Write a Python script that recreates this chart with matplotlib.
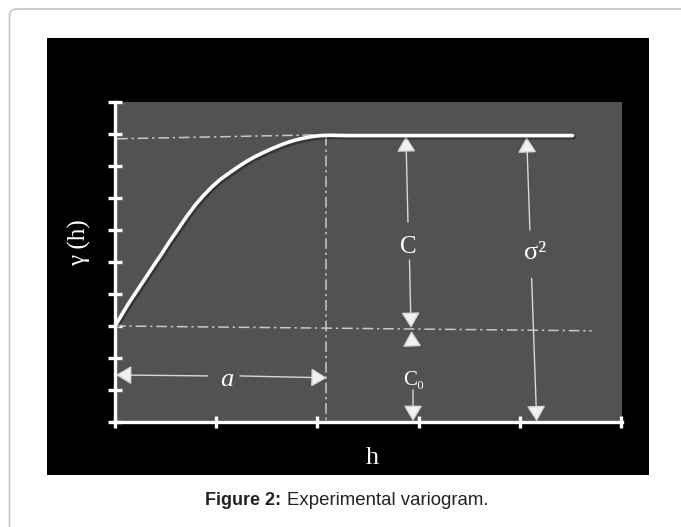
import matplotlib
matplotlib.use("Agg")
import matplotlib.pyplot as plt
from matplotlib.patches import Rectangle, FancyBboxPatch
import matplotlib.patheffects as pe

# ---- data ----
h_curve = [0.0, 0.135, 0.299, 0.38, 0.464, 0.543, 0.629, 0.71, 0.793, 0.875, 0.958,
           1.04, 1.124, 1.21, 1.288, 1.37, 1.453, 1.535, 1.618, 1.70, 1.782, 1.865,
           1.947, 2.03, 2.112, 2.3, 3.0, 4.0, 4.52]
g_curve = [3.0, 3.71, 4.49, 4.88, 5.27, 5.66, 6.05, 6.43, 6.78, 7.08, 7.35,
           7.58, 7.77, 7.96, 8.12, 8.27, 8.40, 8.52, 8.63, 8.73, 8.81, 8.87,
           8.92, 8.95, 8.96, 8.95, 8.95, 8.95, 8.95]
nugget = 3.0
sill = 9.0
range_a = 2.087
x_ticks = [0, 1, 2, 3, 4, 5]
y_ticks = [0, 1, 2, 3, 4, 5, 6, 7, 8, 9, 10]

W, H = 681, 527
fig = plt.figure(figsize=(W / 100, H / 100), dpi=100)
fig.patch.set_facecolor("white")

# outer light frame (top + left visible, rounded corner)
frame = FancyBboxPatch((9.5 / W, -40 / H), 720 / W, (H - 9 + 40) / H,
                       boxstyle="round,pad=0,rounding_size=0.012",
                       transform=fig.transFigure, facecolor="none",
                       edgecolor="#c4c4c4", linewidth=1.2, zorder=-2)
fig.patches.append(frame)

# black panel
fig.patches.append(Rectangle((47 / W, (H - 475) / H), 602 / W, 437 / H,
                             transform=fig.transFigure, facecolor="black",
                             edgecolor="none", zorder=-1))

ax = fig.add_axes([115 / W, (H - 422) / H, 507 / W, 320 / H])
ax.set_facecolor("#525252")
ax.set_xlim(0, 5.01)
ax.set_ylim(0, 10)
for s in ["top", "right"]:
    ax.spines[s].set_visible(False)
for s in ["left", "bottom"]:
    ax.spines[s].set_color("white")
    ax.spines[s].set_linewidth(2.4)
    ax.spines[s].set_zorder(5)
ax.set_xticks(x_ticks)
ax.set_yticks(y_ticks)
ax.tick_params(axis="both", direction="inout", colors="white", width=2.4,
               labelleft=False, labelbottom=False)
ax.tick_params(axis="y", length=10)
ax.tick_params(axis="x", length=8)

dc = "#c8c8c8"
# reference dash-dot lines
ax.plot([0.02, range_a], [sill - 0.15, sill - 0.02], color=dc, lw=1.1,
        ls=(0, (7, 2.5, 1.5, 2.5)), zorder=2)
ax.plot([0.0, 4.71], [nugget, nugget - 0.15], color=dc, lw=1.1,
        ls=(0, (7, 2.5, 1.5, 2.5)), zorder=2)
ax.plot([range_a, range_a], [sill - 0.02, 0], color=dc, lw=1.1,
        ls=(0, (7, 2.5, 1.5, 2.5)), zorder=2)

# variogram curve
ax.plot(h_curve, g_curve, color="white", lw=2.6, solid_capstyle="round",
        solid_joinstyle="round", zorder=4,
        path_effects=[pe.SimpleLineShadow(offset=(1.2, -1.5), shadow_color="black", alpha=0.35),
                      pe.Normal()])

ac = "#d8d8d8"
def arrow(tail, head):
    ax.annotate("", xy=head, xytext=tail,
                arrowprops=dict(arrowstyle="-|>,head_length=0.6,head_width=0.36",
                                color=ac, fc="#f2f2f2", lw=1.0, shrinkA=0, shrinkB=0,
                                mutation_scale=16), zorder=3)

arrow((2.895, 6.25), (2.875, 8.93))
arrow((2.91, 5.06), (2.925, 2.94))
arrow((2.935, 2.45), (2.93, 2.84))
arrow((2.945, 1.0), (2.945, 0.03))
arrow((4.10, 6.0), (4.068, 8.9))
arrow((4.117, 4.49), (4.167, 0.02))
arrow((0.916, 1.44), (0.01, 1.47))
arrow((1.235, 1.44), (2.092, 1.38))

serif = ["Liberation Serif", "DejaVu Serif"]
ax.text(2.9, 5.48, "C", color="white", fontsize=18, family=serif,
        ha="center", va="center")
ax.text(4.15, 5.28, "σ²", color="white", fontsize=19, family=serif,
        ha="center", va="center")
ax.text(2.955, 1.31, "C₀", color="white", fontsize=15, family=serif,
        ha="center", va="center")
ax.text(1.11, 1.3, "a", color="white", fontsize=19, family=serif,
        style="italic", ha="center", va="center")

fig.text(79 / W, 1 - 243 / H, "γ (h)", color="white", fontsize=18, family=serif,
         rotation=90, ha="center", va="center")
fig.text(372 / W, 1 - 458 / H, "h", color="white", fontsize=19, family=serif,
         ha="center", va="center")

sans = ["Liberation Sans", "DejaVu Sans"]
fig.text(205 / W, 1 - 505 / H, "Figure 2:", color="#222222", fontsize=13,
         family=sans, weight="bold", ha="left", va="baseline")
fig.text(287 / W, 1 - 505 / H, "Experimental variogram.", color="#222222",
         fontsize=13.4, family=sans, ha="left", va="baseline")

fig.savefig("out.png", dpi=100, facecolor=fig.get_facecolor())
